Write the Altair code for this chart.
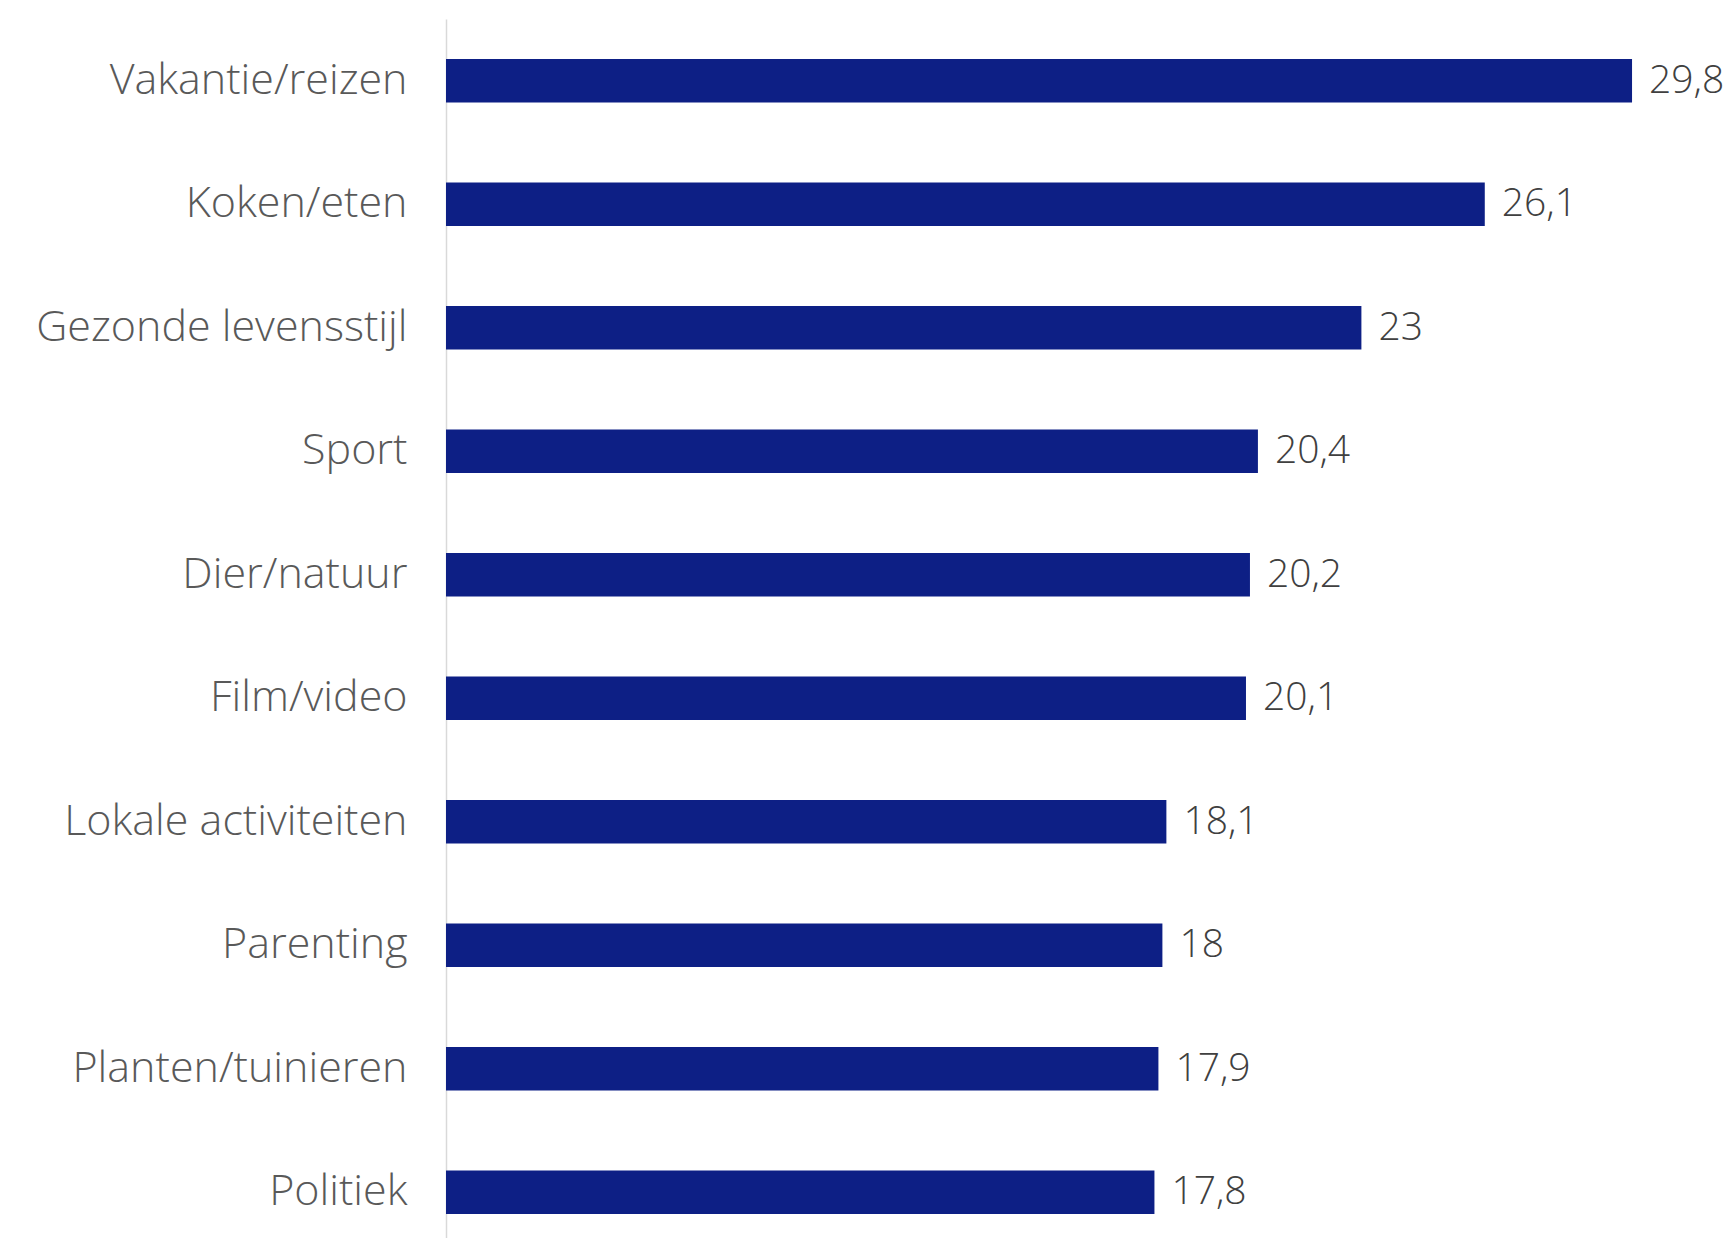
import altair as alt
import pandas as pd

categories = ["Vakantie/reizen", "Koken/eten", "Gezonde levensstijl", "Sport", "Dier/natuur",
              "Film/video", "Lokale activiteiten", "Parenting", "Planten/tuinieren", "Politiek"]
values = [29.8, 26.1, 23, 20.4, 20.2, 20.1, 18.1, 18, 17.9, 17.8]

df = pd.DataFrame({
    "cat": categories,
    "val": values,
    "label": [format(v, "g").replace(".", ",") for v in values],
})

FONT = "Open Sans"

base = alt.Chart(df).encode(
    y=alt.Y("cat:N", sort=categories, title=None,
            scale=alt.Scale(paddingInner=0.647, paddingOuter=0.3235),
            axis=alt.Axis(ticks=False, labelPadding=39, labelFontSize=43, labelFont=FONT,
                          labelFontWeight=300, labelColor="#595959", domainColor="#d9d9d9",
                          domainWidth=1.5, minExtent=437, maxExtent=437, labelLimit=500)),
    x=alt.X("val:Q", title=None, scale=alt.Scale(domain=[0, 30], nice=False), axis=None),
)

bars = base.mark_bar(color="#0d1f85")
text = base.mark_text(align="left", baseline="middle", dx=17, fontSize=39, font=FONT,
                      fontWeight=300, color="#404040").encode(text="label:N")

chart = (bars + text).properties(
    width=1194, height=1235,
    padding={"left": 1, "top": 11, "right": 0, "bottom": 0},
).configure_view(stroke=None).configure_axis(grid=False)

chart.save("out.html", embed_options={"renderer": "svg", "actions": False})
